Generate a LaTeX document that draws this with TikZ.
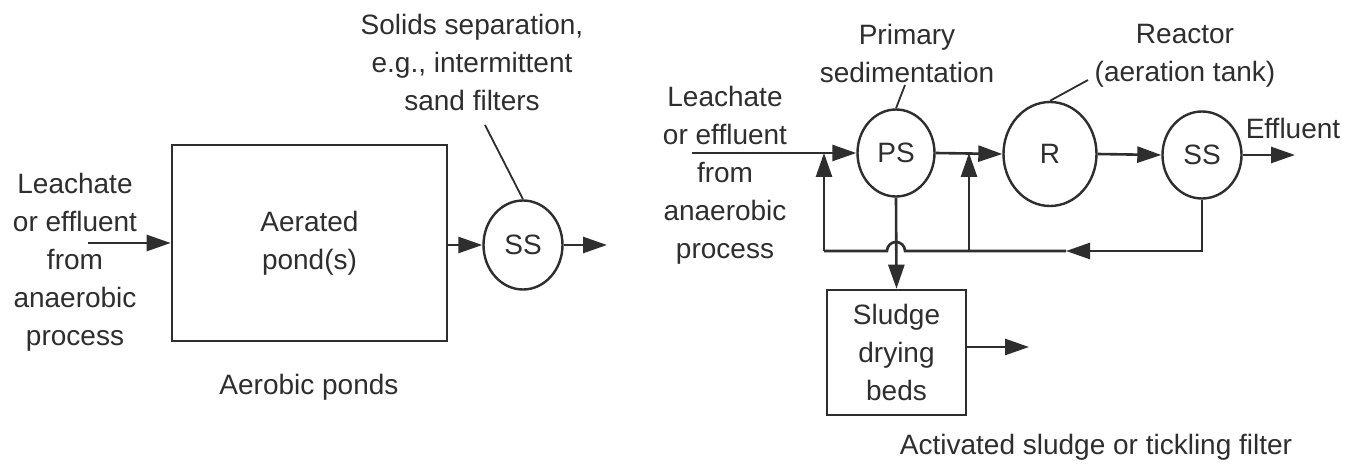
\documentclass[tikz,border=0pt]{standalone}
\usepackage{fontspec}
\setmainfont{Liberation Sans}
\usepackage{tikz}
\usetikzlibrary{arrows.meta,positioning,shapes.geometric,calc}
\definecolor{ink}{HTML}{2E2E2E}
\tikzset{
  apBox/.style={draw=ink, line width=1.3pt, rectangle, align=center, text=ink, inner sep=0pt},
  apUnit/.style={draw=ink, line width=1.2pt, ellipse, inner sep=0pt, text=ink},
  apText/.style={align=center, text=ink, inner sep=0pt},
  %% Flow arrows
  apFlow/.style={-{Triangle[length=12pt,width=8pt]}, line width=1.3pt, draw=ink},
  apPipe/.style={line width=1.3pt, draw=ink},
  %% Leader lines to the labels
  apLead/.style={line width=0.9pt, draw=ink},
}

\begin{document}
\begin{tikzpicture}[x=0.5pt, y=-0.5pt, font=\fontsize{14}{19}\selectfont]
\useasboundingbox[fill=white] (0,0) rectangle (1345,465);

%% Aerobic ponds
\node[apText] (inL) at (75,262) {Leachate\\or effluent\\from\\anaerobic\\process};
\node[apBox, minimum width=137.5pt, minimum height=98pt] (pond) at (309.5,243) {Aerated\\pond(s)};
\node[apText] (pondCap) at (309,387) {Aerobic ponds};
\node[apUnit, minimum width=39.5pt, minimum height=44.5pt] (ssA) at (523,245) {SS};
\node[apText] (ssAlbl) at (472,62) {Solids separation,\\e.g., intermittent\\sand filters};

\coordinate (inLa) at (88,243);
\coordinate (outA) at (607,245);
\coordinate (leadA) at (485,125);

\draw[apFlow] (inLa) -- (pond.west);
\draw[apFlow] (pond.east |- ssA.west) -- (ssA.west);
\draw[apFlow] (ssA.east) -- (outA);
\draw[apLead] (leadA) -- (ssA.north);

%% Activated sludge or tickling filter
\node[apText] (inR) at (725,175) {Leachate\\or effluent\\from\\anaerobic\\process};
\node[apUnit, minimum width=38.5pt, minimum height=43.5pt] (ps) at (896,153) {PS};
\node[apUnit, minimum width=46.5pt, minimum height=52pt] (reac) at (1050,154) {R};
\node[apUnit, minimum width=39.5pt, minimum height=43.5pt] (ssB) at (1202,155) {SS};
\node[apBox, minimum width=69.5pt, minimum height=62.5pt] (beds) at (896.5,352.5) {Sludge\\drying\\beds};
\node[apText] (psLbl) at (907,53) {Primary\\sedimentation};
\node[apText] (rLbl) at (1185,56) {Reactor\\(aeration tank)};
\node[apText] (effLbl) at (1293,128) {Effluent};
\node[apText] (asCap) at (1096,447) {Activated sludge or tickling filter};

\coordinate (inRa) at (692,153);
\coordinate (jL) at (824,153);
\coordinate (jR) at (969,153);
\coordinate (outB) at (1295,155);
\coordinate (outBeds) at (1029,347);
\coordinate (retTip) at (1066,251);
\coordinate (retL) at (824,251);
\coordinate (retR) at (969,251);
\coordinate (psLead) at (905,85);
\coordinate (rLead) at (1088,80);

\draw[apFlow] (inRa) -- (ps.west);
\draw[apFlow] (ps.east) -- (reac.west);
\draw[apFlow] (reac.east) -- (ssB.west);
\draw[apFlow] (ssB.east) -- (outB);
\draw[apFlow] (ps.south) -- (beds.north);
\draw[apFlow] (beds.east |- outBeds) -- (outBeds);
\draw[apLead] (ps.north) -- (psLead);
\draw[apLead] (reac.north) -- (rLead);

%% Return line, with a hop over the sludge line
\draw[apFlow] (ssB.south) |- (retTip);
\draw[apPipe] (retTip) -- (905,251) arc (0:-180:9) -- (retL);
\draw[apFlow] (retL) -- (jL);
\draw[apFlow] (retR) -- (jR);

\end{tikzpicture}
\end{document}
